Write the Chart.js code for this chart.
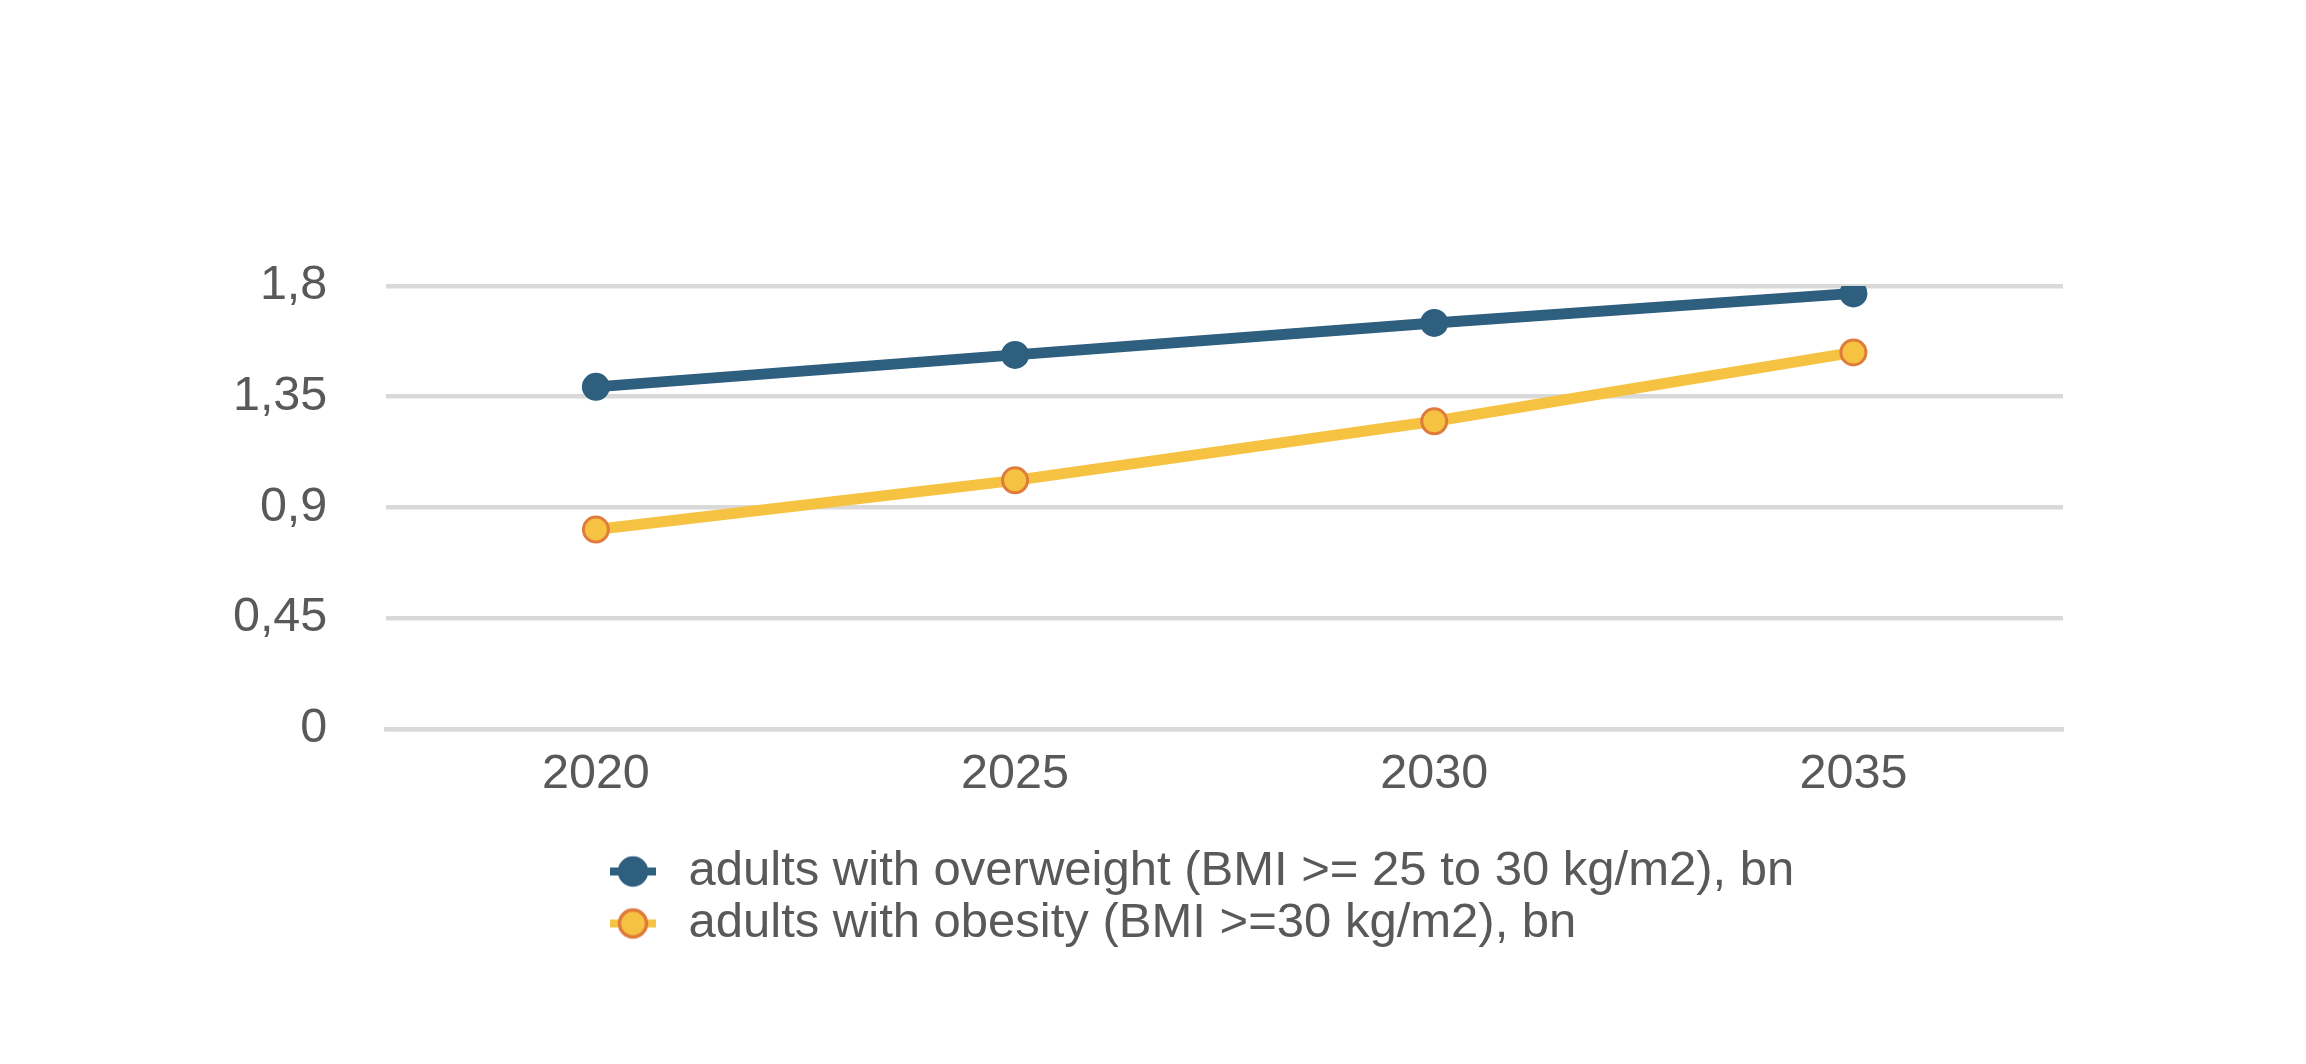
<!DOCTYPE html>
<html>
<head>
<meta charset="utf-8">
<script src="https://cdn.jsdelivr.net/npm/chart.js@4.4.1/dist/chart.umd.min.js"></script>
<style>
  html, body { margin: 0; padding: 0; background: #ffffff; }
  #wrap { width: 2306px; height: 1064px; }
</style>
</head>
<body>
<div id="wrap"><canvas id="myChart"></canvas></div>
<script>
// Chart data
const years = ['2020', '2025', '2030', '2035'];
const overweight = [1.39, 1.52, 1.65, 1.77];
const obesity = [0.81, 1.01, 1.25, 1.53];
const yTickLabels = ['0', '0,45', '0,9', '1,35', '1,8'];
const seriesNames = [
  'adults with overweight (BMI >= 25 to 30 kg/m2), bn',
  'adults with obesity (BMI >=30 kg/m2), bn'
];

const blue = '#2E5F7F';
const yellow = '#F5C242';
const orange = '#DF7B3B';
const textColor = '#595959';
const gridColor = '#D9D9D9';

Chart.defaults.font.family = '"Liberation Sans", Arial, sans-serif';

// Legend markers: a short line with a dot on it, like the original
function legendIcon(lineColor, fill, stroke) {
  const c = document.createElement('canvas');
  c.width = 46;
  c.height = 34;
  const ctx = c.getContext('2d');
  ctx.fillStyle = lineColor;
  ctx.fillRect(0, 13, 46, 8);
  ctx.beginPath();
  ctx.arc(23, 17, 13.5, 0, Math.PI * 2);
  ctx.fillStyle = fill;
  ctx.fill();
  ctx.lineWidth = 3.5;
  ctx.strokeStyle = stroke;
  ctx.stroke();
  return c;
}
const legendIcons = [legendIcon(blue, blue, blue), legendIcon(yellow, yellow, orange)];

// move the legend so its rows start under the first category
const legendShift = {
  id: 'legendShift',
  afterLayout(chart) {
    const lg = chart.legend;
    lg.left = 599;
    lg.right = lg.left + lg.width;
  }
};

new Chart('myChart', {
  type: 'line',
  data: {
    labels: years,
    datasets: [{
      label: seriesNames[0],
      data: overweight,
      borderColor: blue,
      borderWidth: 11,
      pointRadius: 12.5,
      pointBorderWidth: 3,
      pointBackgroundColor: blue,
      pointBorderColor: blue,
      tension: 0
    }, {
      label: seriesNames[1],
      data: obesity,
      borderColor: yellow,
      borderWidth: 11,
      pointRadius: 12.5,
      pointBorderWidth: 3,
      pointBackgroundColor: yellow,
      pointBorderColor: orange,
      tension: 0
    }]
  },
  options: {
    responsive: true,
    maintainAspectRatio: false,
    animation: false,
    layout: { padding: { top: 286, left: 233, right: 243, bottom: 106 } },
    scales: {
      x: {
        offset: true,
        grid: { display: false, drawTicks: false },
        border: { display: true, color: gridColor, width: 4.5 },
        ticks: { color: textColor, font: { size: 48.5 }, padding: 17 },
        afterFit(scale) { scale.height += 23; }
      },
      y: {
        min: 0,
        max: 1.8,
        ticks: {
          stepSize: 0.45,
          color: textColor,
          font: { size: 48.5 },
          padding: 59,
          callback: (v, i) => yTickLabels[i]
        },
        grid: { color: gridColor, lineWidth: 4.5, drawTicks: false },
        border: { display: false },
        afterFit(scale) { scale.width = 153.3; }
      }
    },
    plugins: {
      tooltip: { enabled: false },
      legend: {
        position: 'bottom',
        fullSize: false,
        align: 'start',
        labels: {
          usePointStyle: true,
          pointStyleWidth: 62,
          padding: 3,
          color: textColor,
          font: { size: 49 },
          generateLabels(chart) {
            const items = Chart.defaults.plugins.legend.labels.generateLabels(chart);
            items.forEach((it, i) => { it.pointStyle = legendIcons[i]; });
            return items;
          }
        }
      }
    }
  },
  plugins: [legendShift]
});
</script>
</body>
</html>
